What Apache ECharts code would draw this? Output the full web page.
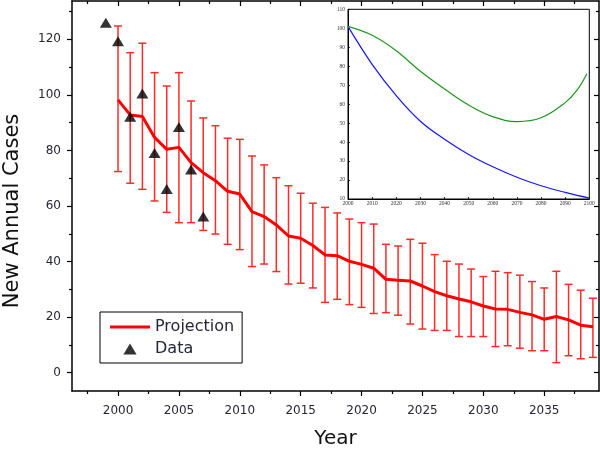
<!DOCTYPE html>
<html>
<head>
<meta charset="utf-8">
<script src="https://cdn.jsdelivr.net/npm/echarts@6/dist/echarts.min.js"></script>
<style>
html,body{margin:0;padding:0;background:#fff;}
#c{width:600px;height:454px;}
</style>
</head>
<body>
<div id="c"></div>
<script>
// ---------- data ----------
const projYears = [2000,2001,2002,2003,2004,2005,2006,2007,2008,2009,
                   2010,2011,2012,2013,2014,2015,2016,2017,2018,2019,
                   2020,2021,2022,2023,2024,2025,2026,2027,2028,2029,
                   2030,2031,2032,2033,2034,2035,2036,2037,2038,2039];
const projection = [98.2,92.8,92.2,84.7,80.4,81.1,75.6,72.0,69.1,65.3,
                    64.3,58.0,56.2,53.2,49.2,48.4,45.8,42.4,42.1,40.1,
                    39.0,37.6,33.6,33.3,33.0,31.2,29.2,27.7,26.5,25.5,
                    24.0,22.9,22.8,21.7,20.8,19.2,20.2,19.0,17.1,16.5];
const errHigh = [124.8,115.2,118.6,108.0,103.2,108.0,97.8,91.7,88.9,84.4,
                 84.0,78.0,74.8,70.2,67.3,64.6,61.0,59.5,57.5,55.3,
                 54.0,53.5,46.2,45.6,48.0,46.6,42.5,40.1,39.1,37.3,
                 34.6,36.5,36.0,35.1,32.8,30.5,36.5,31.8,29.7,26.8];
const errLow = [72.4,68.2,66.0,61.8,57.7,54.0,54.0,51.2,49.9,46.2,
                44.3,38.2,39.1,36.4,31.9,32.2,30.5,25.3,26.4,24.5,
                23.5,21.3,21.6,20.7,17.5,15.7,15.2,15.2,13.0,13.0,
                13.0,9.4,9.7,8.8,7.9,7.9,3.6,6.1,5.0,5.5];
const dataYears = [1999,2000,2001,2002,2003,2004,2005,2006,2007];
const dataValues = [126.0,119.3,92.1,100.5,79.1,66.1,88.4,73.1,56.2];

const xMajorTicks = [2000,2005,2010,2015,2020,2025,2030,2035];
const xMinorTicks = [1997.5,2002.5,2007.5,2012.5,2017.5,2022.5,2027.5,2032.5,2037.5];
const yMajorTicks = [0,20,40,60,80,100,120];
const yMinorTicks = [10,30,50,70,90,110,130];

// inset
const insetBlueYears  = [2000,2010,2020,2030,2040,2050,2060,2070,2080,2090,2100];
const insetBlue       = [101,81,64.5,51,41.5,33.5,27,21.5,17,13.5,10.5];
const insetGreenYears = [2000,2010,2020,2030,2040,2050,2060,2070,2080,2090,2095,2099];
const insetGreen      = [101,96.3,88.2,77.3,68,59.5,53.4,50.8,52.8,60.8,67.5,76];

// ---------- styles ----------
const FONT = 'DejaVu Sans';
const TXT = '#262636';
const RED = '#ff0000';
const BAR = '#ff2b2b';
const X_MIN = 1996.22, X_MAX = 2039.5;
const Y_MIN = -6.6, Y_MAX = 133.8;
const mainGrid = {left:72, right:1, top:1, bottom:63};
const fmt = v => String(v);

const chart = echarts.init(document.getElementById('c'), null, {renderer:'canvas'});

function hiddenLabel(){ return {show:false}; }

const option = {
  animation:false,
  backgroundColor:'#fff',
  grid:[
    Object.assign({outerBoundsMode:'none', containLabel:false}, mainGrid),
    Object.assign({outerBoundsMode:'none', containLabel:false}, mainGrid),
    {left:348, right:10.7, top:9.3, bottom:255, show:true, borderColor:'#000', borderWidth:1,
     backgroundColor:'transparent', outerBoundsMode:'none', containLabel:false}
  ],
  xAxis:[
    {gridIndex:0, type:'value', position:'bottom', min:X_MIN, max:X_MAX,
     axisLine:{show:true, onZero:false, lineStyle:{color:'#000', width:1.5}},
     axisTick:{show:true, inside:false, length:5, customValues:xMajorTicks, lineStyle:{color:'#000', width:1.2}},
     axisLabel:{show:true, customValues:xMajorTicks, formatter:fmt, margin:14, fontSize:12, fontFamily:FONT, color:TXT},
     splitLine:{show:false},
     name:'Year', nameLocation:'middle', nameGap:38,
     nameTextStyle:{fontFamily:FONT, fontSize:20, color:'#111'}},
    {gridIndex:0, type:'value', position:'top', min:X_MIN, max:X_MAX,
     axisLine:{show:true, onZero:false, lineStyle:{color:'#000', width:1.5}},
     axisTick:{show:true, inside:true, length:5, customValues:xMajorTicks, lineStyle:{color:'#000', width:1.2}},
     axisLabel:hiddenLabel(), splitLine:{show:false}},
    {gridIndex:1, type:'value', position:'bottom', min:X_MIN, max:X_MAX,
     axisLine:{show:false, onZero:false},
     axisTick:{show:true, inside:false, length:3, customValues:xMinorTicks, lineStyle:{color:'#000', width:1.2}},
     axisLabel:hiddenLabel(), splitLine:{show:false}},
    {gridIndex:1, type:'value', position:'top', min:X_MIN, max:X_MAX,
     axisLine:{show:false, onZero:false},
     axisTick:{show:true, inside:true, length:3, customValues:xMinorTicks, lineStyle:{color:'#000', width:1.2}},
     axisLabel:hiddenLabel(), splitLine:{show:false}},
    {gridIndex:2, type:'value', position:'bottom', min:2000, max:2100, interval:10,
     axisLine:{show:true, onZero:false, lineStyle:{color:'#000', width:1}},
     axisTick:{show:true, inside:true, length:2, lineStyle:{color:'#000', width:0.8}},
     axisLabel:{show:true, formatter:fmt, margin:2, fontSize:5.5, fontFamily:'Liberation Sans Narrow', color:'#333'},
     splitLine:{show:false}}
  ],
  yAxis:[
    {gridIndex:0, type:'value', position:'left', min:Y_MIN, max:Y_MAX,
     axisLine:{show:true, onZero:false, lineStyle:{color:'#000', width:1.5}},
     axisTick:{show:true, inside:false, length:5, customValues:yMajorTicks, lineStyle:{color:'#000', width:1.2}},
     axisLabel:{show:true, customValues:yMajorTicks, formatter:fmt, margin:11, fontSize:12, fontFamily:FONT, color:TXT},
     splitLine:{show:false},
     name:'New Annual Cases', nameLocation:'middle', nameGap:49, nameRotate:90,
     nameTextStyle:{fontFamily:FONT, fontSize:21, color:'#111', padding:[0,30,0,0]}},
    {gridIndex:0, type:'value', position:'right', min:Y_MIN, max:Y_MAX,
     axisLine:{show:true, onZero:false, lineStyle:{color:'#000', width:1.5}},
     axisTick:{show:true, inside:true, length:5, customValues:yMajorTicks, lineStyle:{color:'#000', width:1.2}},
     axisLabel:hiddenLabel(), splitLine:{show:false}},
    {gridIndex:1, type:'value', position:'left', min:Y_MIN, max:Y_MAX,
     axisLine:{show:false, onZero:false},
     axisTick:{show:true, inside:false, length:3, customValues:yMinorTicks, lineStyle:{color:'#000', width:1.2}},
     axisLabel:hiddenLabel(), splitLine:{show:false}},
    {gridIndex:1, type:'value', position:'right', min:Y_MIN, max:Y_MAX,
     axisLine:{show:false, onZero:false},
     axisTick:{show:true, inside:true, length:3, customValues:yMinorTicks, lineStyle:{color:'#000', width:1.2}},
     axisLabel:hiddenLabel(), splitLine:{show:false}},
    {gridIndex:2, type:'value', position:'left', min:10, max:110, interval:10,
     axisLine:{show:true, onZero:false, lineStyle:{color:'#000', width:1}},
     axisTick:{show:true, inside:true, length:2, lineStyle:{color:'#000', width:0.8}},
     axisLabel:{show:true, formatter:fmt, margin:3, fontSize:5.5, fontFamily:'Liberation Sans Narrow', color:'#333'},
     splitLine:{show:false}}
  ],
  legend:{
    orient:'vertical', left:100, top:312, padding:[7,8,6,10], itemGap:6,
    itemWidth:40, itemHeight:11, borderColor:'#000', borderWidth:1, borderRadius:0,
    backgroundColor:'#fff', symbolKeepAspect:true,
    textStyle:{fontFamily:FONT, fontSize:16, color:TXT},
    data:[
      {name:'Projection', icon:'path://M0 0H40V3H0Z'},
      {name:'Data', icon:'path://M6 0L12 10L0 10Z'}
    ]
  },
  series:[
    {
      name:'Error', type:'custom', xAxisIndex:0, yAxisIndex:0, z:1,
      data: projYears.map((y,i)=>[y, errLow[i], errHigh[i]]),
      encode:{x:0, y:[1,2]},
      renderItem:(params, api)=>{
        const x = api.value(0), lo = api.value(1), hi = api.value(2);
        const pLo = api.coord([x, lo]);
        const pHi = api.coord([x, hi]);
        const w = 4;
        const st = {stroke:BAR, lineWidth:1.5};
        return {type:'group', children:[
          {type:'line', shape:{x1:pHi[0], y1:pHi[1], x2:pLo[0], y2:pLo[1]}, style:st},
          {type:'line', shape:{x1:pHi[0]-w, y1:pHi[1], x2:pHi[0]+w, y2:pHi[1]}, style:st},
          {type:'line', shape:{x1:pLo[0]-w, y1:pLo[1], x2:pLo[0]+w, y2:pLo[1]}, style:st}
        ]};
      }
    },
    {
      name:'Projection', type:'line', xAxisIndex:0, yAxisIndex:0, z:3,
      data: projYears.map((y,i)=>[y, projection[i]]),
      symbol:'none', showSymbol:false,
      lineStyle:{color:RED, width:3}, itemStyle:{color:RED}
    },
    {
      name:'Data', type:'scatter', xAxisIndex:0, yAxisIndex:0, z:4,
      data: dataYears.map((y,i)=>[y, dataValues[i]]),
      symbol:'triangle', symbolSize:[12,10],
      itemStyle:{color:'#000'}
    },
    {
      name:'Inset A', type:'line', xAxisIndex:4, yAxisIndex:4, z:3,
      data: insetBlueYears.map((y,i)=>[y, insetBlue[i]]),
      smooth:0.4, symbol:'none', showSymbol:false,
      lineStyle:{color:'#1515ff', width:1.2}
    },
    {
      name:'Inset B', type:'line', xAxisIndex:4, yAxisIndex:4, z:3,
      data: insetGreenYears.map((y,i)=>[y, insetGreen[i]]),
      smooth:0.4, symbol:'none', showSymbol:false,
      lineStyle:{color:'#1e961e', width:1.2}
    }
  ]
};
chart.setOption(option);
</script>
</body>
</html>
